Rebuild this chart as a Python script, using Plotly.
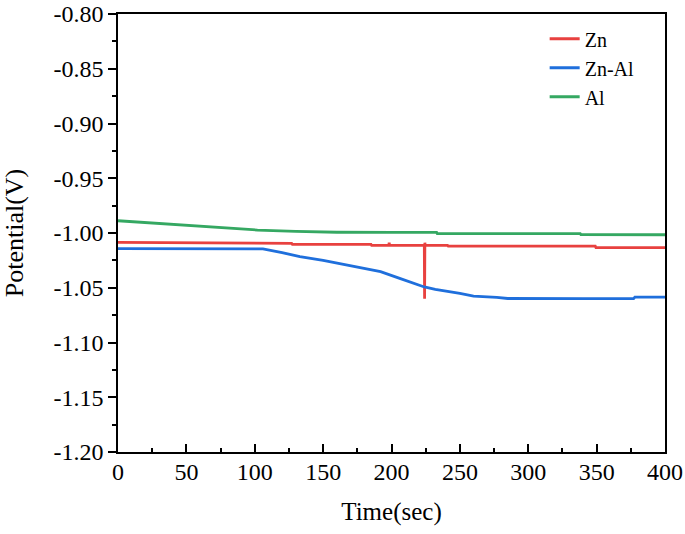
import plotly.graph_objects as go

# Zn
zn_t = [0, 127, 127.5, 185, 185.5, 198, 198.3, 198.6, 224, 224.2, 224.4, 224.6, 241, 241.5, 349, 349.5, 400]
zn_v = [-1.0085, -1.0095, -1.0103, -1.0103, -1.0113, -1.0113, -1.0088, -1.0113, -1.0113, -1.060, -1.0088, -1.0113,
        -1.0113, -1.0120, -1.0120, -1.0133, -1.0134]
# Zn-Al
znal_t = [0, 106, 120, 133, 150, 165, 182, 192, 206, 215, 224, 232, 243, 250, 260, 268, 277, 285, 300, 340, 377, 378, 400]
znal_v = [-1.0143, -1.0145, -1.0180, -1.0216, -1.0250, -1.0285, -1.0323, -1.0353, -1.0414, -1.0455, -1.0493, -1.0515,
          -1.0536, -1.0552, -1.0576, -1.0580, -1.0588, -1.0598, -1.0600, -1.0600, -1.0600, -1.0585, -1.0585]
# Al
al_t = [0, 25, 50, 75, 102, 130, 160, 200, 233, 233.5, 338, 338.5, 400]
al_v = [-0.9888, -0.9910, -0.9932, -0.9953, -0.9973, -0.9985, -0.9993, -0.9995, -0.9995, -1.0006, -1.0006, -1.0015, -1.0016]

x_ticks = [0, 50, 100, 150, 200, 250, 300, 350, 400]
y_ticks = [-0.80, -0.85, -0.90, -0.95, -1.00, -1.05, -1.10, -1.15, -1.20]

fig = go.Figure()
fig.add_trace(go.Scatter(x=zn_t, y=zn_v, mode="lines", name="Zn", line=dict(color="#E8413F", width=2.8)))
fig.add_trace(go.Scatter(x=znal_t, y=znal_v, mode="lines", name="Zn-Al", line=dict(color="#1F6FDC", width=2.8)))
fig.add_trace(go.Scatter(x=al_t, y=al_v, mode="lines", name="Al", line=dict(color="#35A862", width=2.8)))

font = "Liberation Serif"
fig.update_layout(
    width=685, height=534,
    margin=dict(l=118, r=20, t=14, b=82, autoexpand=False),
    paper_bgcolor="white", plot_bgcolor="white",
    font=dict(family=font, size=24, color="black"),
    showlegend=True,
    legend=dict(x=0.78, y=0.988, xanchor="left", yanchor="top", bgcolor="rgba(0,0,0,0)",
                font=dict(family=font, size=20), tracegroupgap=0),
)
fig.update_xaxes(
    range=[0, 400], tickvals=x_ticks, ticktext=[str(v) for v in x_ticks],
    showgrid=False, zeroline=False, showline=True, linecolor="black", linewidth=1.5, mirror=True,
    ticks="inside", ticklen=8, tickwidth=1.5, tickcolor="black", automargin=False,
    ticklabelstandoff=-3,
    minor=dict(dtick=25, ticks="inside", ticklen=4, tickwidth=1.5, tickcolor="black"),
    title=dict(text="Time(sec)", font=dict(family=font, size=25), standoff=19),
    tickfont=dict(family=font, size=24, color="black"),
)
fig.update_yaxes(
    range=[-1.20, -0.80], tickvals=y_ticks, ticktext=["%.2f" % v for v in y_ticks],
    showgrid=False, zeroline=False, showline=True, linecolor="black", linewidth=1.5, mirror=True,
    ticks="outside", ticklen=8, tickwidth=1.5, tickcolor="black", automargin=False,
    minor=dict(dtick=0.025, tick0=-1.2, ticks="outside", ticklen=4, tickwidth=1.5, tickcolor="black"),
    title=dict(text="Potential(V)", font=dict(family=font, size=26), standoff=24),
    tickfont=dict(family=font, size=24, color="black"),
)
fig.write_html("out.html", config={"displayModeBar": False},
               post_script="document.body.style.margin='0';")
